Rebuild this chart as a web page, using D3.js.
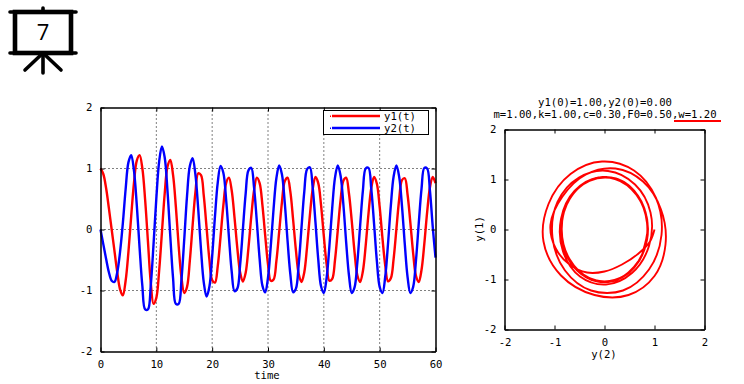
<!DOCTYPE html>
<html><head><meta charset="utf-8">
<script src="https://cdn.jsdelivr.net/npm/d3@7"></script>
<style>
html,body{margin:0;padding:0;background:#fff}
svg{display:block}
text{font-family:"DejaVu Sans Mono",monospace;font-size:10.6px;fill:#000}
</style></head><body><svg id="c" width="744" height="384"></svg>
<script>
const timeStep = 0.5;
const seriesNames = ["y1(t)", "y2(t)"];
const seriesColors = ["#ff0000", "#0000ff"];
const timeTicks = [0,10,20,30,40,50,60];
const timeGridTicks = [10,20,30,40,50];
const valueTicks = [-2,-1,0,1,2];
const valueGridTicks = [-1,0,1];
const titleLines = ["y1(0)=1.00,y2(0)=0.00", "m=1.00,k=1.00,c=0.30,F0=0.50,w=1.20"];
const y1 = [1.00,.91,.68,.35,0,-.35,-.70,-.98,
 -1.08,-.84,-.37,.22,.77,1.13,1.22,1.00,.48,-.20,-.87,-1.22,
 -1.12,-.68,-.05,.59,1.03,1.14,.89,.37,-.27,-.79,-1.04,
 -.94,-.51,.07,.61,.92,.89,.55,.03,-.49,-.83,
 -.87,-.60,-.12,.39,.76,.85,.64,.20,-.30,-.70,-.855,
 -.71,-.30,.21,.64,.85,.76,.40,-.10,-.57,-.84,
 -.82,-.52,-.04,.45,.79,.85,.62,.16,-.34,-.73,-.86,-.70,-.28,.23,.66,.86,
 .76,.40,-.11,-.57,-.84,-.81,-.50,-.01,.48,.80,.85,.59,.14,-.37,-.75,-.86,-.68,-.26,.26,.68,.86,
 .75,.37,-.14,-.59,-.85,-.80,-.48,.01,.50,.81,.84,.57,.11,-.39,-.76,-.86,-.66,-.23,.28,.69,.86,.76];
const y2 = [0,-.24,-.48,-.70,-.84,-.86,-.70,-.37,
 .10,.66,1.10,1.22,.96,.40,-.30,-.93,-1.31,
 -1.31,-.92,-.24,.51,1.11,1.36,1.18,.63,-.11,-.80,-1.22,
 -1.22,-.82,-.16,.55,1.04,1.17,.90,.34,-.33,-.87,-1.10,
 -.94,-.44,.21,.77,1.04,.93,.49,-.12,-.69,-1.01,
 -.97,-.59,0,.59,.97,1.01,.69,.13,-.48,-.92,
 -1.03,-.79,-.27,.34,.84,1.05,.90,.44,-.18,-.73,-1.03,-.97,-.57,.03,.62,.99,1.02,.69,.12,
 -.49,-.93,-1.04,-.79,-.27,.35,.85,1.05,.88,.41,-.21,-.75,-1.04,-.95,-.54,.06,.64,1.00,1.01,.66,.09,
 -.52,-.94,-1.04,-.77,-.23,.39,.87,1.05,.86,.38,-.24,-.78,-1.04,-.94,-.51,.10,.67,1.01,1.00,.64,.05,-.46];

const svg = d3.select("#c");
const times = y1.map((_, i) => i * timeStep);

// Presentation-board badge
const icon = svg.append("g").attr("stroke", "#000").attr("stroke-linecap", "round").attr("fill", "none");
icon.append("rect").attr("x", 15).attr("y", 12).attr("width", 56).attr("height", 41).attr("stroke-width", 4.6).attr("stroke-linecap", "butt");
[[10,12,76,12],[10,53,76,53],[43,53,43,73],[43,53,25,70],[43,53,61,70],[43,8,43,11]].forEach(d =>
  icon.append("line").attr("x1", d[0]).attr("y1", d[1]).attr("x2", d[2]).attr("y2", d[3]).attr("stroke-width", 3.6));
svg.append("text").attr("x", 43).attr("y", 40).attr("text-anchor", "middle").style("font-family", "'Open Sans',sans-serif").style("font-size", "22px").text("7");

function styleAxis(g) {
  g.select(".domain").attr("stroke", "#000").attr("stroke-width", 1.5).attr("fill", "none");
  g.selectAll(".tick line").attr("stroke", "#000").attr("stroke-width", 1);
  g.selectAll("text").style("font-family", '"DejaVu Sans Mono",monospace').style("font-size", "10.6px").attr("fill", "#000");
}
function frame(x, y, xt, yt) {
  const [x0, x1] = x.range(), [y0, y1r] = y.range();
  const noLabel = () => "";
  const plain = d => String(d);
  svg.append("g").attr("transform", `translate(0,${y0})`).call(d3.axisBottom(x).tickValues(xt).tickFormat(plain).tickSize(-4).tickPadding(9).tickSizeOuter(0)).call(styleAxis);
  svg.append("g").attr("transform", `translate(0,${y1r})`).call(d3.axisTop(x).tickValues(xt).tickSize(-4).tickFormat(noLabel).tickSizeOuter(0)).call(styleAxis);
  svg.append("g").attr("transform", `translate(${x0},0)`).call(d3.axisLeft(y).tickValues(yt).tickFormat(plain).tickSize(-4).tickPadding(8).tickSizeOuter(0)).call(styleAxis);
  svg.append("g").attr("transform", `translate(${x1},0)`).call(d3.axisRight(y).tickValues(yt).tickSize(-4).tickFormat(noLabel).tickSizeOuter(0)).call(styleAxis);
}

// Left panel
const xL = d3.scaleLinear().domain([0, 60]).range([100.5, 435.5]);
const yL = d3.scaleLinear().domain([-2, 2]).range([351.5, 107.5]);
const grid = svg.append("g").attr("stroke", "#000").attr("stroke-width", 1).attr("stroke-dasharray", "1 3");
grid.selectAll(".v").data(timeGridTicks).join("line").attr("x1", d => xL(d)).attr("x2", d => xL(d)).attr("y1", yL(-2)).attr("y2", yL(2));
grid.selectAll(".h").data(valueGridTicks).join("line").attr("y1", d => yL(d)).attr("y2", d => yL(d)).attr("x1", xL(0)).attr("x2", xL(60));
const lineL = d3.line().x((d, i) => xL(times[i])).y(d => yL(d)).curve(d3.curveCatmullRom);
[y1, y2].forEach((s, i) => svg.append("path").attr("d", lineL(s)).attr("fill", "none").attr("stroke", seriesColors[i]).attr("stroke-width", 2.4).attr("stroke-linejoin", "round"));
frame(xL, yL, timeTicks, valueTicks);
svg.append("text").attr("x", 267).attr("y", 379).attr("text-anchor", "middle").text("time");

// Legend
svg.append("rect").attr("x", 323.5).attr("y", 110.5).attr("width", 105).attr("height", 24).attr("fill", "#fff").attr("stroke", "#000").attr("stroke-width", 1);
seriesNames.forEach((n, i) => {
  const ly = 116 + i * 12;
  svg.append("line").attr("x1", 332).attr("x2", 380).attr("y1", ly).attr("y2", ly).attr("stroke", seriesColors[i]).attr("stroke-width", 2.4);
  svg.append("rect").attr("x", 330).attr("y", ly - 0.5).attr("width", 1).attr("height", 1.5).attr("fill", seriesColors[i]);
  svg.append("text").attr("x", 384).attr("y", ly + 3.5).text(n);
});

// Right panel
const xR = d3.scaleLinear().domain([-2, 2]).range([504.5, 704.5]);
const yR = d3.scaleLinear().domain([-2, 2]).range([329.5, 129.5]);
const lineR = d3.line().x((d, i) => xR(y1[i])).y(d => yR(d)).curve(d3.curveCatmullRom);
svg.append("path").attr("d", lineR(y2)).attr("fill", "none").attr("stroke", seriesColors[0]).attr("stroke-width", 1.9).attr("stroke-linejoin", "round");
frame(xR, yR, valueTicks, valueTicks);
svg.append("text").attr("x", 604).attr("y", 358).attr("text-anchor", "middle").text("y(2)");
svg.append("text").attr("transform", "translate(483,229) rotate(-90)").attr("text-anchor", "middle").text("y(1)");
titleLines.forEach((t, i) => svg.append("text").attr("x", 605).attr("y", 106 + i * 12).attr("text-anchor", "middle").text(t));
svg.append("line").attr("x1", 674).attr("x2", 721).attr("y1", 121).attr("y2", 121).attr("stroke", "#ff0000").attr("stroke-width", 2);
</script></body></html>
